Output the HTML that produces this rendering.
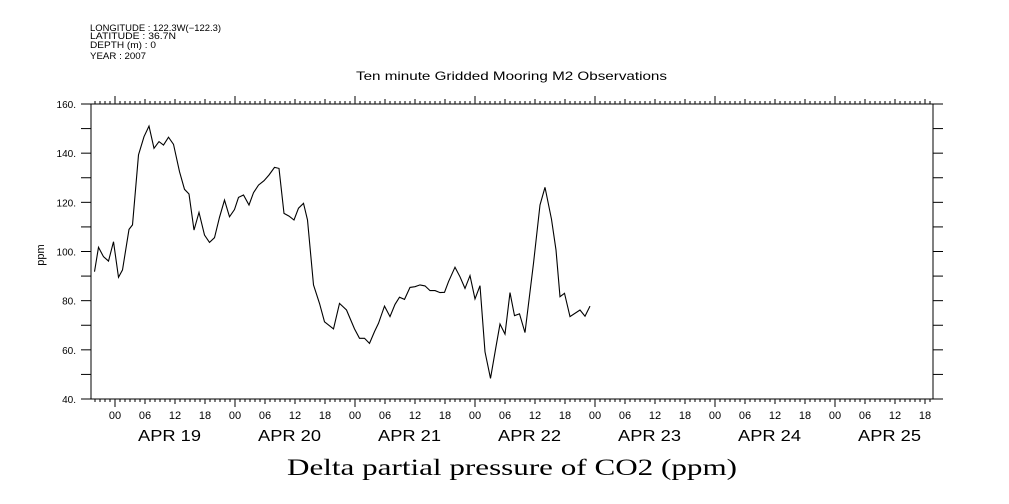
<!DOCTYPE html>
<html><head><meta charset="utf-8"><style>
body{margin:0;background:#fff;}
svg{display:block;font-family:"Liberation Sans",sans-serif;}
</style></head><body>
<svg width="1009" height="504" viewBox="0 0 1009 504">
<g font-size="9" fill="#000">
<text x="90" y="31" textLength="131" lengthAdjust="spacingAndGlyphs">LONGITUDE : 122.3W(−122.3)</text>
<text x="90" y="39" textLength="86" lengthAdjust="spacingAndGlyphs">LATITUDE : 36.7N</text>
<text x="90" y="48" textLength="66" lengthAdjust="spacingAndGlyphs">DEPTH (m) : 0</text>
<text x="90" y="59" textLength="56" lengthAdjust="spacingAndGlyphs">YEAR : 2007</text>
</g>
<text x="356" y="80" font-size="12" textLength="311" lengthAdjust="spacingAndGlyphs">Ten minute Gridded Mooring M2 Observations</text>
<text x="287" y="475" font-size="23" font-family="Liberation Serif,serif" textLength="450" lengthAdjust="spacingAndGlyphs">Delta partial pressure of CO2 (ppm)</text>
<text x="44" y="255" font-size="11" text-anchor="middle" transform="rotate(-90 44 255)">ppm</text>
<rect x="91" y="104" width="842" height="295" fill="none" stroke="#000" stroke-width="1"/>
<g id="axes"></g>
<path id="line" fill="none" stroke="#000" stroke-width="1.1"/>
</svg>
<script>
const hours=[-4.1,-3.3,-2.3,-1.3,-0.3,0.7,1.5,2.8,3.5,4.7,5.8,6.8,7.8,8.8,9.7,10.7,11.7,12.9,13.9,14.8,15.8,16.8,17.9,18.9,19.9,20.9,21.9,22.9,23.9,24.7,25.7,26.8,27.7,28.7,29.8,30.8,31.9,32.8,33.8,34.8,35.8,36.7,37.7,38.5,39.7,40.9,41.9,43.7,44.9,46.3,47.9,48.9,49.9,50.9,51.9,52.7,53.9,55,56,56.9,57.9,59,60,61,62,63,64,65,65.9,66.7,68,69,70,71,72,73,74,75.1,76.2,77,78,79,79.9,80.9,82,83.7,85,86,87.3,88.2,89,89.9,91,93,94,95];
const values=[91.8,101.7,97.9,96.1,104,89.5,92.5,109,110.8,139.3,146.7,151,142,144.7,143.3,146.5,143.6,132.5,125.3,123.4,108.7,115.9,106.7,103.7,105.6,113.9,120.9,114.1,117.1,122,123,118.9,123.9,127,128.8,131.1,134.2,133.8,115.5,114.4,112.8,117.6,119.6,112.8,86.4,78.9,71.4,68.5,78.9,76.2,68.5,64.7,64.7,62.6,67.4,70.8,77.8,73.5,78.5,81.4,80.5,85.4,85.7,86.4,86,84.1,84.1,83.3,83.4,87.7,93.6,89.7,85,90.2,80.7,86.1,59.2,48.4,61.3,70.5,66.4,83.3,73.9,74.6,67,95.2,118.9,126.1,113.1,100.6,81.6,83,73.5,76.2,73.7,77.8];
const yTicks=[40,60,80,100,120,140,160];
const dayLabels=["APR 19","APR 20","APR 21","APR 22","APR 23","APR 24","APR 25"];
const hourLabels=["00","06","12","18"];
const X=h=>115+h*5, Y=v=>399-(v-40)*295/120;
const NS="http://www.w3.org/2000/svg";
const ax=document.getElementById('axes');
function mk(t,a,txt){const e=document.createElementNS(NS,t);for(const k in a)e.setAttribute(k,a[k]);if(txt!==undefined)e.textContent=txt;ax.appendChild(e);return e;}
for(let v=40;v<=160;v+=10){const y=Y(v);
const t1=mk('line',{x1:81,x2:91,y1:y,y2:y,stroke:'#000'});


const t2=mk('line',{x1:933,x2:943,y1:y,y2:y,stroke:'#000'});

}
yTicks.forEach(v=>{const t=mk('text',{x:76,y:Y(v)+4,'font-size':10,'text-anchor':'end'},v+'.');

});
for(let h=-4;h<=163;h++){const x=X(h);if(x<91||x>933)continue;
const len=(h%24===0)?8:(h%6===0?5:3);
const a=mk('line',{x1:x,x2:x,y1:104,y2:104-len,stroke:'#000'});


const b=mk('line',{x1:x,x2:x,y1:399,y2:399+len,stroke:'#000'});

}
dayLabels.forEach((d,i)=>{hourLabels.forEach((hl,j)=>{const t=mk('text',{x:X(i*24+j*6),y:419,'font-size':11,'text-anchor':'middle'},hl);

});
const t=mk('text',{x:X(i*24+11)-32,y:441,'font-size':16,textLength:63,lengthAdjust:'spacingAndGlyphs'},d);

});
document.getElementById('line').setAttribute('d',hours.map((h,i)=>(i?'L':'M')+X(h).toFixed(1)+' '+Y(values[i]).toFixed(1)).join(' '));
</script>
</body></html>
